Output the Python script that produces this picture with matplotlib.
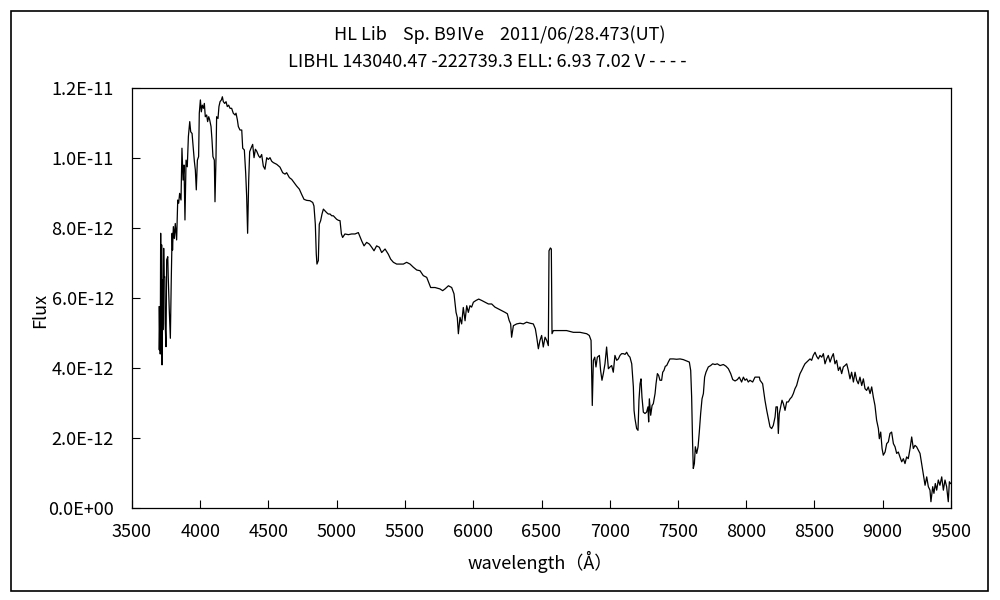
import matplotlib
matplotlib.use("Agg")
import matplotlib.pyplot as plt
from matplotlib.patches import Rectangle
import numpy as np

plt.rcParams['font.family'] = ['Liberation Sans Narrow', 'Noto Sans CJK JP', 'DejaVu Sans']

wavelength = [
    3698, 3700, 3705, 3707, 3710, 3714, 3717, 3720, 3724, 3726, 3732, 3736, 3740, 3743, 3749, 3754,
    3762, 3765, 3773, 3781, 3788, 3794, 3797, 3803, 3810, 3817, 3827, 3835, 3842, 3849, 3859, 3866,
    3874, 3881, 3888, 3896, 3905, 3913, 3923, 3930, 3940, 3949, 3957, 3964, 3971, 3979, 3988, 3993,
    4001, 4008, 4015, 4023, 4030, 4037, 4047, 4054, 4062, 4069, 4079, 4086, 4093, 4103, 4108, 4115,
    4120, 4130, 4137, 4145, 4155, 4162, 4169, 4179, 4189, 4198, 4208, 4218, 4230, 4242, 4255, 4262,
    4272, 4279, 4291, 4304, 4311, 4323, 4333, 4340, 4347, 4355, 4362, 4374, 4384, 4394, 4404, 4413,
    4428, 4438, 4450, 4462, 4474, 4487, 4499, 4511, 4523, 4535, 4560, 4584, 4604, 4621, 4633, 4653,
    4670, 4687, 4706, 4726, 4743, 4760, 4780, 4804, 4824, 4833, 4843, 4850, 4855, 4865, 4872, 4882,
    4892, 4902, 4914, 4926, 4938, 4951, 4963, 4975, 4987, 4999, 5012, 5024, 5034, 5043, 5060, 5085,
    5109, 5134, 5158, 5183, 5200, 5219, 5239, 5256, 5273, 5292, 5312, 5329, 5354, 5378, 5395, 5415,
    5439, 5463, 5488, 5512, 5537, 5561, 5586, 5610, 5634, 5659, 5678, 5688, 5720, 5756, 5776, 5793,
    5818, 5842, 5859, 5874, 5883, 5891, 5903, 5915, 5927, 5940, 5952, 5964, 5976, 5988, 6001, 6020,
    6040, 6062, 6086, 6111, 6135, 6159, 6184, 6208, 6233, 6250, 6263, 6274, 6281, 6294, 6318, 6343,
    6367, 6391, 6416, 6440, 6455, 6465, 6477, 6489, 6501, 6513, 6526, 6538, 6550, 6555, 6565, 6572,
    6577, 6587, 6611, 6636, 6684, 6733, 6782, 6831, 6850, 6863, 6868, 6872, 6880, 6890, 6899, 6909,
    6924, 6933, 6943, 6953, 6965, 6977, 6990, 7002, 7014, 7026, 7038, 7051, 7063, 7075, 7087, 7100,
    7112, 7124, 7136, 7148, 7161, 7173, 7178, 7185, 7197, 7207, 7214, 7222, 7229, 7236, 7246, 7258,
    7270, 7280, 7285, 7290, 7300, 7310, 7319, 7332, 7339, 7349, 7358, 7368, 7380, 7388, 7397, 7407,
    7417, 7429, 7441, 7466, 7490, 7515, 7539, 7564, 7583, 7593, 7600, 7607, 7612, 7620, 7627, 7637,
    7647, 7656, 7666, 7676, 7686, 7695, 7705, 7722, 7739, 7754, 7771, 7788, 7808, 7832, 7852, 7869,
    7886, 7901, 7918, 7935, 7949, 7966, 7979, 7991, 8003, 8015, 8027, 8047, 8064, 8081, 8096, 8101,
    8120, 8137, 8150, 8162, 8174, 8186, 8198, 8211, 8218, 8228, 8235, 8242, 8252, 8262, 8272, 8284,
    8296, 8308, 8321, 8333, 8345, 8357, 8369, 8382, 8394, 8406, 8418, 8430, 8443, 8455, 8467, 8479,
    8491, 8504, 8516, 8528, 8540, 8553, 8565, 8577, 8589, 8601, 8614, 8626, 8638, 8650, 8662, 8675,
    8687, 8699, 8711, 8723, 8736, 8748, 8760, 8772, 8785, 8797, 8809, 8821, 8833, 8846, 8858, 8870,
    8882, 8894, 8907, 8919, 8931, 8943, 8955, 8968, 8975, 8985, 8995, 9004, 9017, 9029, 9041, 9053,
    9065, 9078, 9090, 9102, 9114, 9126, 9139, 9151, 9163, 9175, 9187, 9200, 9212, 9224, 9236, 9248,
    9261, 9273, 9285, 9297, 9310, 9322, 9334, 9346, 9353, 9366, 9375, 9385, 9395, 9407, 9419, 9432,
    9444, 9456, 9468, 9480, 9488, 9497,
]

flux_e12 = [
    5.75, 4.52, 5.75, 4.40, 7.85, 4.52, 7.52, 4.09, 6.51, 5.09, 7.42, 6.61, 6.61, 5.28, 4.61, 7.09,
    7.18, 6.66, 5.66, 4.85, 6.61, 7.85, 7.37, 8.04, 7.70, 8.13, 7.66, 8.80, 8.71, 8.99, 8.80, 10.28,
    9.37, 9.80, 8.23, 9.94, 9.75, 10.61, 11.04, 10.75, 10.70, 10.28, 9.90, 9.66, 9.09, 9.94, 10.04, 11.28,
    11.66, 11.32, 11.51, 11.42, 11.56, 11.18, 11.23, 11.04, 11.18, 11.09, 10.90, 10.52, 10.04, 9.94, 8.75, 9.94,
    11.18, 11.13, 11.47, 11.61, 11.66, 11.75, 11.61, 11.56, 11.61, 11.47, 11.51, 11.42, 11.42, 11.28, 11.23, 11.28,
    11.09, 10.90, 10.80, 10.80, 10.28, 10.23, 9.56, 8.90, 7.85, 9.37, 10.18, 10.30, 10.39, 10.01, 10.25, 10.20,
    10.06, 10.01, 10.10, 9.77, 9.68, 10.01, 9.96, 10.01, 9.91, 9.87, 9.82, 9.74, 9.58, 9.54, 9.58, 9.44,
    9.39, 9.30, 9.20, 9.11, 8.96, 8.82, 8.79, 8.78, 8.73, 8.63, 8.11, 7.26, 6.97, 7.07, 8.11, 8.21,
    8.40, 8.54, 8.49, 8.44, 8.40, 8.40, 8.35, 8.35, 8.30, 8.25, 8.22, 8.21, 7.83, 7.73, 7.83, 7.81,
    7.83, 7.83, 7.87, 7.63, 7.49, 7.59, 7.54, 7.45, 7.35, 7.49, 7.45, 7.30, 7.40, 7.25, 7.11, 7.02,
    6.97, 6.97, 6.97, 7.02, 6.97, 6.88, 6.80, 6.78, 6.64, 6.59, 6.40, 6.30, 6.30, 6.26, 6.21, 6.26,
    6.35, 6.30, 6.12, 5.59, 5.45, 4.98, 5.45, 5.26, 5.73, 5.35, 5.78, 5.59, 5.78, 5.74, 5.88, 5.93,
    5.97, 5.93, 5.88, 5.83, 5.83, 5.74, 5.69, 5.64, 5.59, 5.55, 5.36, 5.26, 4.88, 5.21, 5.26, 5.28,
    5.26, 5.31, 5.28, 5.26, 5.12, 4.88, 4.55, 4.79, 4.93, 4.60, 4.88, 4.79, 4.64, 7.35, 7.43, 7.40,
    4.98, 5.07, 5.07, 5.07, 5.07, 5.02, 5.02, 4.98, 4.93, 4.79, 3.84, 2.93, 4.22, 4.31, 4.03, 4.31,
    4.36, 3.93, 3.65, 3.84, 4.12, 4.60, 3.98, 4.03, 4.07, 3.88, 4.36, 4.22, 4.26, 4.36, 4.41, 4.41,
    4.39, 4.45, 4.36, 4.31, 4.12, 3.46, 2.79, 2.55, 2.27, 2.22, 3.08, 3.55, 3.69, 3.17, 2.74, 2.70,
    2.74, 2.89, 2.46, 3.12, 2.65, 2.93, 2.98, 3.27, 3.55, 3.84, 3.79, 3.65, 3.65, 3.88, 3.93, 4.05,
    4.07, 4.17, 4.26, 4.26, 4.25, 4.26, 4.24, 4.20, 4.17, 3.93, 3.17, 1.84, 1.13, 1.27, 1.75, 1.56,
    1.75, 2.17, 2.70, 3.12, 3.27, 3.74, 3.88, 4.03, 4.07, 4.12, 4.10, 4.12, 4.07, 4.10, 4.05, 3.98,
    3.84, 3.67, 3.63, 3.67, 3.74, 3.60, 3.74, 3.65, 3.69, 3.60, 3.65, 3.60, 3.74, 3.74, 3.74, 3.65,
    3.55, 3.08, 2.79, 2.55, 2.32, 2.27, 2.36, 2.60, 2.89, 2.89, 2.13, 2.70, 2.89, 3.08, 2.98, 2.79,
    3.03, 3.03, 3.12, 3.17, 3.27, 3.41, 3.50, 3.69, 3.84, 3.93, 4.03, 4.12, 4.17, 4.22, 4.26, 4.22,
    4.36, 4.45, 4.33, 4.26, 4.36, 4.31, 4.41, 4.12, 4.26, 4.36, 4.17, 4.31, 4.41, 4.12, 4.22, 3.93,
    4.03, 3.84, 4.03, 4.07, 4.12, 3.93, 3.69, 3.88, 3.60, 3.88, 3.65, 3.55, 3.74, 3.50, 3.69, 3.41,
    3.36, 3.46, 3.27, 3.46, 3.17, 2.93, 2.51, 2.27, 1.98, 2.17, 1.70, 1.51, 1.60, 1.84, 1.89, 2.13,
    2.17, 1.84, 1.75, 1.56, 1.60, 1.46, 1.32, 1.41, 1.27, 1.46, 1.41, 1.70, 2.03, 1.70, 1.79, 1.75,
    1.65, 1.56, 1.27, 0.99, 0.65, 0.89, 0.61, 0.51, 0.18, 0.61, 0.42, 0.70, 0.51, 0.80, 0.65, 0.89,
    0.51, 0.80, 0.61, 0.18, 0.75, 0.70,
]

x_ticks = [3500, 4000, 4500, 5000, 5500, 6000, 6500, 7000, 7500, 8000, 8500, 9000, 9500]
y_ticks = [0.0, 2e-12, 4e-12, 6e-12, 8e-12, 1.0e-11, 1.2e-11]
y_tick_labels = ["0.0E+00", "2.0E-12", "4.0E-12", "6.0E-12", "8.0E-12", "1.0E-11", "1.2E-11"]

title_line1 = "HL Lib    Sp. B9Ⅳe    2011/06/28.473(UT)"
title_line2 = "LIBHL 143040.47 -222739.3 ELL: 6.93 7.02 V - - - -"

flux = np.array(flux_e12) * 1e-12

fig = plt.figure(figsize=(10, 6), dpi=100)
fig.patch.set_facecolor("white")
fig.add_artist(Rectangle((0.011, 0.015), 0.977, 0.967, transform=fig.transFigure,
                         fill=False, edgecolor="black", linewidth=1.2))

ax = fig.add_axes([0.132, 0.1533, 0.819, 0.70])
ax.plot(wavelength, flux, color="black", linewidth=0.9)
ax.set_xlim(3500, 9500)
ax.set_ylim(0, 1.2e-11)
ax.set_xticks(x_ticks)
ax.set_xticklabels([str(t) for t in x_ticks])
ax.set_yticks(y_ticks)
ax.set_yticklabels(y_tick_labels)
ax.tick_params(axis="x", direction="in", length=6, width=0.8, pad=11, labelsize=13)
ax.tick_params(axis="y", direction="in", length=6, width=0.8, pad=13, labelsize=13)
for s in ax.spines.values():
    s.set_linewidth(0.9)
    s.set_color("black")

fig.text(0.500, 1 - 35 / 600, title_line1, ha="center", va="center", fontsize=13)
fig.text(0.487, 1 - 62 / 600, title_line2, ha="center", va="center", fontsize=13)
fig.text(0.540, 1 - 562 / 600, "wavelength（Å）", ha="center", va="center", fontsize=13)
fig.text(0.040, 1 - 310 / 600, "Flux", ha="center", va="center", rotation=90, fontsize=13)

fig.savefig("out.png", dpi=100, facecolor="white")
